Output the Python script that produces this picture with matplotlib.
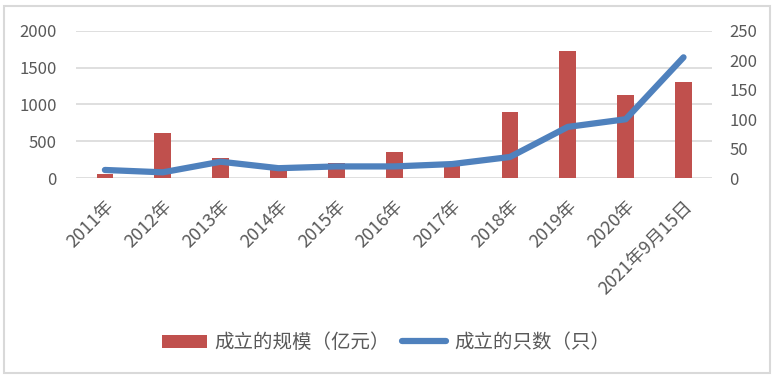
import matplotlib
matplotlib.use("Agg")
import matplotlib.pyplot as plt
from matplotlib.patches import Rectangle
import numpy as np

plt.rcParams['font.family'] = ['Noto Sans CJK SC', 'DejaVu Sans']

### data
categories = ['2011年', '2012年', '2013年', '2014年', '2015年', '2016年',
              '2017年', '2018年', '2019年', '2020年', '2021年9月15日']
scale_values = [60, 620, 280, 160, 210, 350, 210, 900, 1730, 1130, 1300]
count_values = [14, 10, 28, 17, 20, 20, 24, 36, 87, 100, 205]
left_ticks = [0, 500, 1000, 1500, 2000]
right_ticks = [0, 50, 100, 150, 200, 250]

BAR_COLOR = '#C0504D'
LINE_COLOR = '#4F81BD'
GRID_COLOR = '#D9D9D9'
TEXT_COLOR = '#595959'

fig = plt.figure(figsize=(7.8, 3.8), dpi=100)
ax = fig.add_axes([0.0974, 0.531, 0.816, 0.388])
ax2 = ax.twinx()

x = np.arange(len(categories))
bars = ax.bar(x, scale_values, width=0.29, color=BAR_COLOR, zorder=2,
              label='成立的规模（亿元）')
line, = ax2.plot(x, count_values, color=LINE_COLOR, lw=4.5,
                 solid_capstyle='round', solid_joinstyle='round',
                 label='成立的只数（只）', zorder=3)

ax.set_xlim(-0.5, len(categories) - 0.5)
ax.set_ylim(0, 2000)
ax2.set_ylim(0, 250)
ax.set_yticks(left_ticks)
ax2.set_yticks(right_ticks)
ax.yaxis.grid(True, color=GRID_COLOR, lw=1.2, zorder=0)
ax.set_axisbelow(True)

for a in (ax, ax2):
    for s in a.spines.values():
        s.set_visible(False)
    a.tick_params(length=0, colors=TEXT_COLOR, labelsize=12)
ax.tick_params(axis='y', pad=14)
ax2.tick_params(axis='y', pad=12)

ax.set_xticks(x)
ax.set_xticklabels(categories, rotation=45, ha='right', rotation_mode='anchor',
                   fontsize=13, color=TEXT_COLOR)
ax.tick_params(axis='x', pad=14)

fig.legend(handles=[bars, line], loc='center', bbox_to_anchor=(0.495, 0.098),
           ncol=2, frameon=False, fontsize=14, labelcolor=TEXT_COLOR,
           handlelength=2.3, handletextpad=0.4, columnspacing=0.6)

# outer border of the chart
fig.patches.append(Rectangle((0.005, 0.018), 0.982, 0.967, transform=fig.transFigure,
                             fill=False, edgecolor=GRID_COLOR, lw=1.5))

fig.savefig('out.png', dpi=100)
